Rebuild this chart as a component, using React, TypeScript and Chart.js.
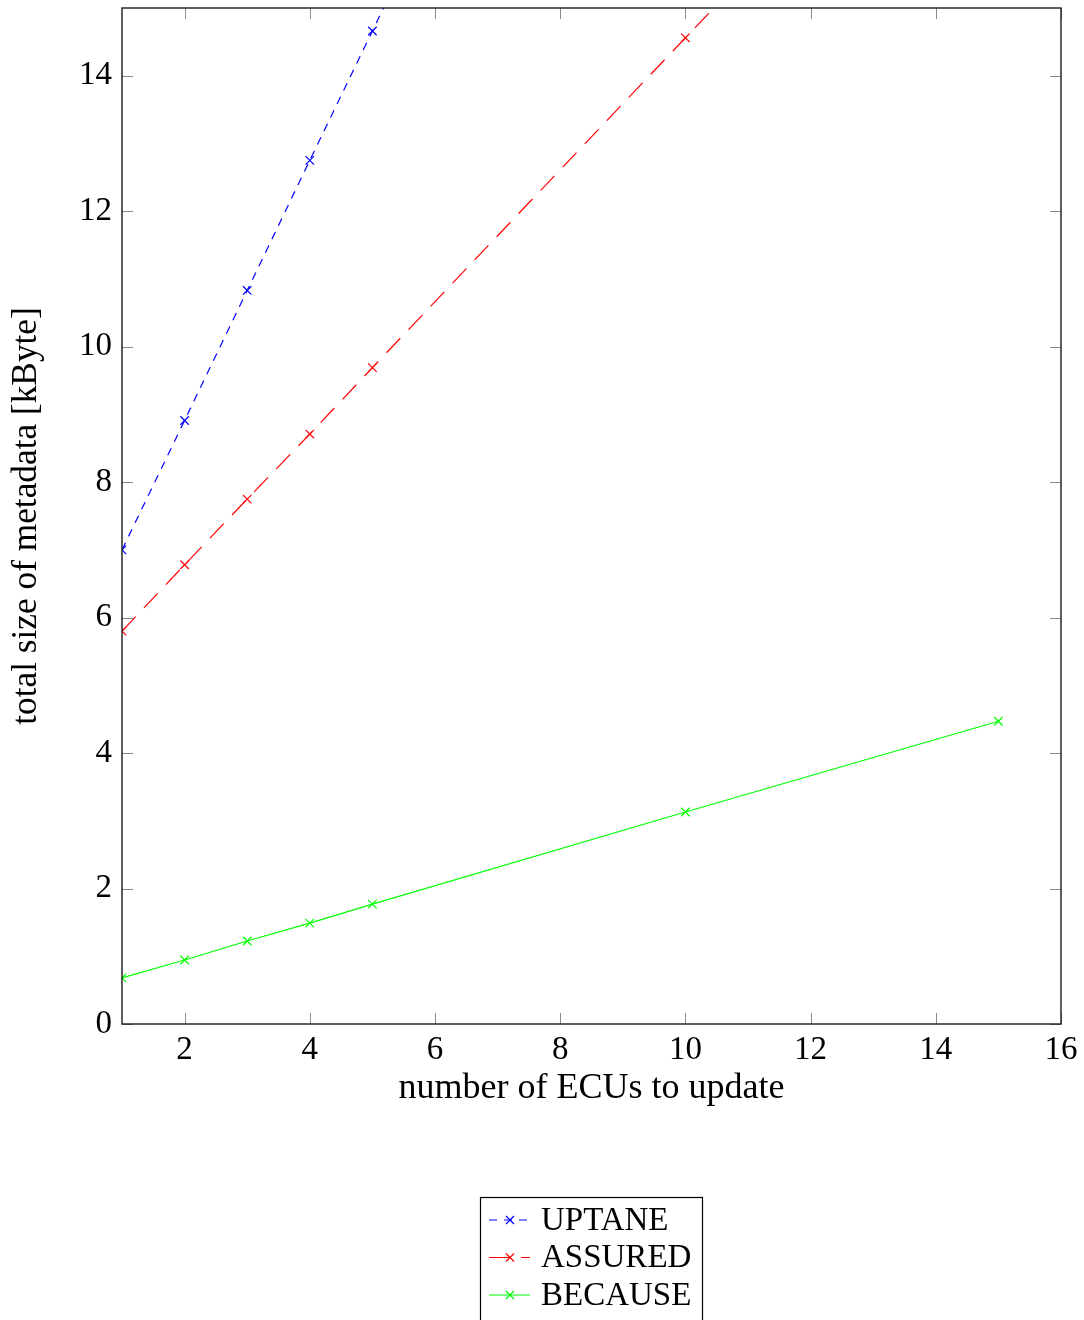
import React, { useEffect, useRef } from 'react';
import { Chart, registerables } from 'chart.js';

Chart.register(...registerables);

const ecuCounts = [1, 2, 3, 4, 5, 10, 15];
const uptaneKB = [7.0, 8.91, 10.83, 12.75, 14.66, 24.2, 33.8];
const assuredKB = [5.8, 6.78, 7.75, 8.71, 9.69, 14.56, 19.4];
const becauseKB = [0.68, 0.945, 1.226, 1.49, 1.77, 3.13, 4.47];
const seriesNames = ['UPTANE', 'ASSURED', 'BECAUSE'];
const seriesColors = ['#0000ff', '#ff0000', '#00ff00'];
const seriesDashes: number[][] = [[8, 7], [20, 12], []];
const xTickValues = [2, 4, 6, 8, 10, 12, 14, 16];
const yTickValues = [0, 2, 4, 6, 8, 10, 12, 14];
const xAxisTitle = 'number of ECUs to update';
const yAxisTitle = 'total size of metadata [kByte]';

const FONT = "'Liberation Serif', 'DejaVu Serif', serif";

const toPoints = (ys: number[]) => ecuCounts.map((x, i) => ({ x, y: ys[i] }));

const framePlugin = {
  id: 'pgfFrame',
  afterDatasetsDraw(chart: any) {
    const { ctx, chartArea: a, scales } = chart;
    ctx.save();
    ctx.strokeStyle = '#8a8a8a';
    ctx.lineWidth = 1;
    const L = 11;
    xTickValues.forEach((v) => {
      const x = Math.round(scales.x.getPixelForValue(v)) + 0.5;
      ctx.beginPath();
      ctx.moveTo(x, a.bottom);
      ctx.lineTo(x, a.bottom - L);
      ctx.moveTo(x, a.top);
      ctx.lineTo(x, a.top + L);
      ctx.stroke();
    });
    yTickValues.forEach((v) => {
      const y = Math.round(scales.y.getPixelForValue(v)) + 0.5;
      ctx.beginPath();
      ctx.moveTo(a.left, y);
      ctx.lineTo(a.left + L, y);
      ctx.moveTo(a.right, y);
      ctx.lineTo(a.right - L, y);
      ctx.stroke();
    });
    ctx.strokeStyle = '#1a1a1a';
    ctx.lineWidth = 1.4;
    ctx.strokeRect(a.left, a.top, a.right - a.left, a.bottom - a.top);
    ctx.restore();
  },
  afterDraw(chart: any) {
    const { ctx } = chart;
    ctx.save();
    ctx.strokeStyle = '#000';
    ctx.lineWidth = 1.2;
    ctx.strokeRect(480.5, 1197.5, 222, 140);
    chart.data.datasets.forEach((ds: any, i: number) => {
      const y = 1220 + i * 37.5;
      ctx.strokeStyle = ds.borderColor;
      ctx.lineWidth = 1.2;
      ctx.setLineDash(ds.borderDash || []);
      ctx.beginPath();
      ctx.moveTo(489, y);
      ctx.lineTo(530, y);
      ctx.stroke();
      ctx.setLineDash([]);
      const cx = 510, r = 4;
      ctx.beginPath();
      ctx.moveTo(cx - r, y - r);
      ctx.lineTo(cx + r, y + r);
      ctx.moveTo(cx - r, y + r);
      ctx.lineTo(cx + r, y - r);
      ctx.stroke();
      ctx.fillStyle = '#000';
      ctx.font = `33px ${FONT}`;
      ctx.textAlign = 'left';
      ctx.textBaseline = 'middle';
      ctx.fillText(ds.label, 541, y + 1);
    });
    ctx.restore();
  },
};

export default function App() {
  const ref = useRef<HTMLCanvasElement | null>(null);
  useEffect(() => {
    if (!ref.current) return;
    const allSeries = [uptaneKB, assuredKB, becauseKB];
    const chart = new Chart(ref.current, {
      type: 'line',
      data: {
        datasets: allSeries.map((ys, i) => ({
          label: seriesNames[i],
          data: toPoints(ys),
          borderColor: seriesColors[i],
          backgroundColor: seriesColors[i],
          borderWidth: 1.2,
          borderDash: seriesDashes[i],
          pointStyle: 'crossRot',
          pointRadius: 6,
          pointBorderWidth: 1.2,
          pointBorderColor: seriesColors[i],
          tension: 0,
          fill: false,
        })),
      },
      options: {
        animation: false,
        responsive: false,
        devicePixelRatio: 1,
        layout: { padding: { left: 0, right: 23, top: 8, bottom: 206 } },
        plugins: { legend: { display: false }, tooltip: { enabled: false } },
        scales: {
          x: {
            type: 'linear',
            min: 1,
            max: 16,
            grid: { display: false, drawTicks: false },
            border: { display: false },
            ticks: { color: '#000', font: { family: FONT, size: 33 }, padding: 7, maxRotation: 0, autoSkip: false },
            title: { display: true, text: xAxisTitle, color: '#000', font: { family: FONT, size: 36 }, padding: { top: 4, bottom: 4 } },
            afterBuildTicks: (s: any) => { s.ticks = xTickValues.map((v) => ({ value: v })); },
            afterFit: (s: any) => { s.height = 90; s.paddingLeft = 0; s.paddingRight = 0; },
          },
          y: {
            type: 'linear',
            min: 0,
            max: 15,
            grid: { display: false, drawTicks: false },
            border: { display: false },
            ticks: { color: '#000', font: { family: FONT, size: 33 }, padding: 10, autoSkip: false },
            title: { display: true, text: yAxisTitle, color: '#000', font: { family: FONT, size: 35.3 }, padding: { top: 6, bottom: 4 } },
            afterBuildTicks: (s: any) => { s.ticks = yTickValues.map((v) => ({ value: v })); },
            afterFit: (s: any) => { s.width = 122; s.paddingTop = 0; s.paddingBottom = 0; },
          },
        },
      } as any,
      plugins: [framePlugin],
    });
    return () => chart.destroy();
  }, []);
  return (
    <canvas
      ref={ref}
      width={1084}
      height={1320}
      style={{ position: 'absolute', left: 0, top: 0, width: 1084, height: 1320 }}
    />
  );
}
